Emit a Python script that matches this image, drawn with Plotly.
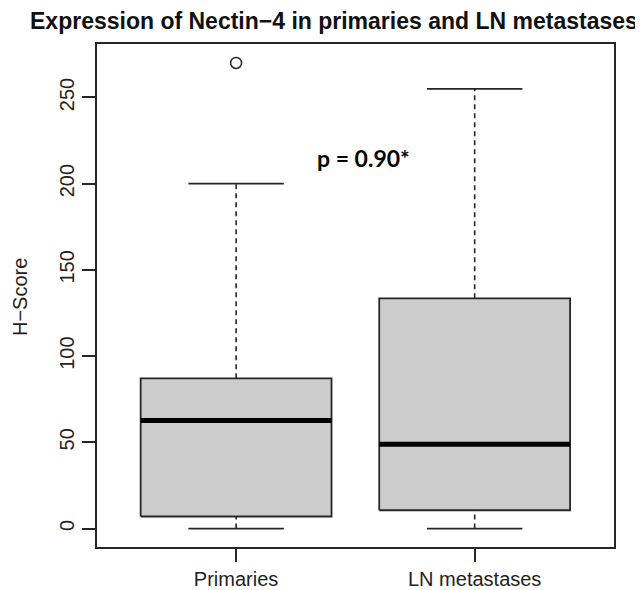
import plotly.graph_objects as go

# ---- data ----
categories = ["Primaries", "LN metastases"]
lower_whisker = [0, 0]
q1 = [7.0, 10.6]
median = [62.7, 48.9]
q3 = [87.1, 133.5]
upper_whisker = [200, 255]
outliers = [[270], []]
y_ticks = [0, 50, 100, 150, 200, 250]
p_label = "p = 0.90*"

# ---- style ----
BOX_HALF = 0.4
CAP_HALF = 0.2
LINE = "#262626"
FILL = "#cccccc"
FONT = "Liberation Sans, Arial, sans-serif"
OFF = 8  # default page body margin
W, H = 643 - OFF, 590 - OFF
ML, MT = 97 - OFF, 44 - OFF
MR = W - (614 - OFF)
MB = H - (547 - OFF)
PW, PH = W - ML - MR, H - MT - MB


def px_x(px):  # page pixel -> paper fraction
    return (px - OFF - ML) / PW


def px_y(py):
    return (H - MB - (py - OFF)) / PH


fig = go.Figure()
positions = [i + 1 for i in range(len(categories))]

for i, pos in enumerate(positions):
    fig.add_trace(go.Scatter(
        x=[pos - BOX_HALF, pos + BOX_HALF, pos + BOX_HALF, pos - BOX_HALF, pos - BOX_HALF],
        y=[q1[i], q1[i], q3[i], q3[i], q1[i]],
        mode="lines", fill="toself", fillcolor=FILL,
        line=dict(color=LINE, width=1.8), hoverinfo="skip", showlegend=False))
    fig.add_trace(go.Scatter(
        x=[pos - BOX_HALF, pos + BOX_HALF], y=[median[i], median[i]],
        mode="lines", line=dict(color="black", width=5), hoverinfo="skip", showlegend=False))
    fig.add_trace(go.Scatter(
        x=[pos, pos], y=[q3[i], upper_whisker[i]], mode="lines",
        line=dict(color=LINE, width=1.6, dash="5px,4px"), hoverinfo="skip", showlegend=False))
    fig.add_trace(go.Scatter(
        x=[pos, pos], y=[lower_whisker[i], q1[i]], mode="lines",
        line=dict(color=LINE, width=1.6, dash="5px,4px"), hoverinfo="skip", showlegend=False))
    for v in (upper_whisker[i], lower_whisker[i]):
        fig.add_trace(go.Scatter(
            x=[pos - CAP_HALF, pos + CAP_HALF], y=[v, v], mode="lines",
            line=dict(color=LINE, width=1.8), hoverinfo="skip", showlegend=False))
    if outliers[i]:
        fig.add_trace(go.Scatter(
            x=[pos] * len(outliers[i]), y=outliers[i], mode="markers",
            marker=dict(symbol="circle-open", size=11, color=LINE, line=dict(width=1.5)),
            hoverinfo="skip", showlegend=False))

fig.add_annotation(
    x=1.536, y=215, xref="x", yref="y", text="<b>" + p_label + "</b>",
    showarrow=False, font=dict(family="Lato, Open Sans, sans-serif", size=23, color="black"))

fig.add_annotation(
    x=px_x(334), y=px_y(21), xref="paper", yref="paper",
    text="<b>Expression of Nectin\u22124 in primaries and LN metastases</b>",
    showarrow=False, font=dict(family=FONT, size=23, color="#111"),
    xanchor="center", yanchor="middle")

fig.add_annotation(
    x=px_x(OFF), y=px_y(297), xref="paper", yref="paper", text="H\u2212Score",
    textangle=-90, showarrow=False, font=dict(family=FONT, size=20, color="#222"),
    xanchor="left", yanchor="middle", borderpad=0)

fig.update_layout(
    width=W, height=H,
    margin=dict(l=ML, r=MR, t=MT, b=MB),
    plot_bgcolor="white", paper_bgcolor="white",
    font=dict(family=FONT, size=20, color="#222"),
    xaxis=dict(range=[0.417, 2.584], tickvals=positions, ticktext=categories,
               showgrid=False, zeroline=False, showline=True, mirror=True,
               linecolor=LINE, linewidth=1.8, ticks="outside", ticklen=13,
               tickwidth=1.8, tickcolor=LINE, tickfont=dict(size=20),
               automargin=False),
    yaxis=dict(range=[-10.7, 281.0], tickvals=y_ticks, tickangle=-90,
               showgrid=False, zeroline=False, showline=True, mirror=True,
               linecolor=LINE, linewidth=1.8, ticks="outside", ticklen=13,
               tickwidth=1.8, tickcolor=LINE, tickfont=dict(size=20),
               automargin=False, ticklabelstandoff=0),
)

fig.write_html("out.html")
